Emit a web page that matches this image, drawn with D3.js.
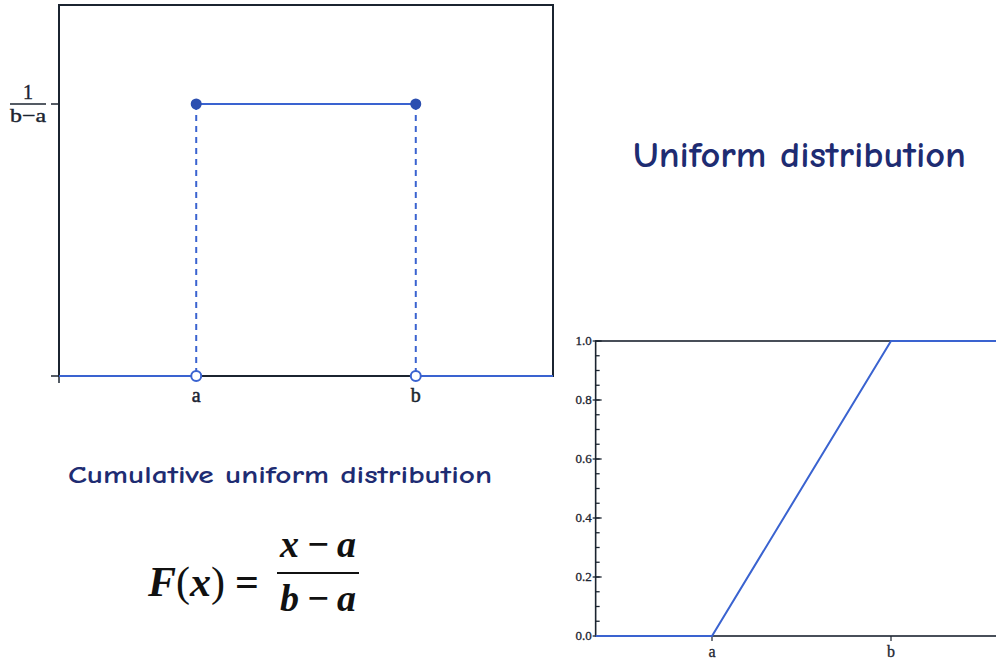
<!DOCTYPE html>
<html>
<head>
<meta charset="utf-8">
<script src="https://cdn.jsdelivr.net/npm/d3@7"></script>
<style>
  html, body { margin: 0; padding: 0; background: #fff; }
  svg { display: block; }
</style>
</head>
<body>
<svg id="chart" width="996" height="663"></svg>
<script>
// Uniform distribution on [a, b]
const a = 2.5;
const b = 6.5;
const density = 1 / (b - a);

// Density plot: x domain and y headroom
const pdfXDomain = [0, 9];
const pdfYMax = 0.341;
const pdfXTicks = [{ v: a, label: "a" }, { v: b, label: "b" }];

// Density pieces: flat zero outside [a, b], flat 1/(b-a) inside
const pdfSegments = [
  [[0, 0], [a, 0]],
  [[a, density], [b, density]],
  [[b, 0], [9, 0]]
];
const pdfFilled = [[a, density], [b, density]];
const pdfOpen = [[a, 0], [b, 0]];

// Cumulative plot
const cdfXDomain = [-0.1, 9.5];
const cdfPoints = [[-0.1, 0], [a, 0], [b, 1], [9.5, 1]];
const cdfYTicks = [0, 0.2, 0.4, 0.6, 0.8, 1.0];
const cdfYMinor = d3.range(0, 1.0001, 0.05);
const cdfXTicks = [{ v: a, label: "a" }, { v: b, label: "b" }];

const titleText = "Uniform distribution";
const subtitleText = "Cumulative uniform distribution";

const blue = "#3a63d0";
const dotBlue = "#2c4fb0";
const navy = "#1e2c72";
const ink = "#1b2430";

const svg = d3.select("#chart");
const serif = "'Liberation Serif', 'DejaVu Serif', serif";

// ---------- density chart ----------
const px = d3.scaleLinear().domain(pdfXDomain).range([59, 553]);
const py = d3.scaleLinear().domain([0, pdfYMax]).range([376, 5]);

const pdfG = svg.append("g");
// frame
pdfG.append("rect")
  .attr("x", px(pdfXDomain[0])).attr("y", py(pdfYMax))
  .attr("width", px(pdfXDomain[1]) - px(pdfXDomain[0]))
  .attr("height", py(0) - py(pdfYMax))
  .attr("fill", "none").attr("stroke", ink).attr("stroke-width", 2);
// axis ticks at origin
pdfG.append("line").attr("x1", px(0) - 8).attr("x2", px(0)).attr("y1", py(0)).attr("y2", py(0))
  .attr("stroke", ink).attr("stroke-width", 1.5);
pdfG.append("line").attr("x1", px(0)).attr("x2", px(0)).attr("y1", py(0)).attr("y2", py(0) + 7)
  .attr("stroke", ink).attr("stroke-width", 1.5);
// y tick at 1/(b-a)
pdfG.append("line").attr("x1", px(0) - 8).attr("x2", px(0)).attr("y1", py(density)).attr("y2", py(density))
  .attr("stroke", ink).attr("stroke-width", 1.5);

// y tick label as a stacked fraction
const fracX = 28;
pdfG.append("text").attr("x", fracX).attr("y", py(density) - 5)
  .attr("text-anchor", "middle").attr("font-family", serif)
  .attr("font-size", 20).attr("fill", ink)
  .attr("stroke", ink).attr("stroke-width", 0.4).text("1");
pdfG.append("line").attr("x1", fracX - 18).attr("x2", fracX + 18)
  .attr("y1", py(density)).attr("y2", py(density)).attr("stroke", ink).attr("stroke-width", 1.4);
pdfG.append("text").attr("x", fracX).attr("y", py(density) + 18)
  .attr("text-anchor", "middle").attr("font-family", serif)
  .attr("font-size", 19).attr("fill", ink)
  .attr("stroke", ink).attr("stroke-width", 0.4)
  .attr("textLength", 36).attr("lengthAdjust", "spacingAndGlyphs")
  .text("b\u2212a");

// dashed verticals
pdfG.selectAll("line.drop").data(pdfFilled).enter().append("line")
  .attr("class", "drop")
  .attr("x1", d => px(d[0])).attr("x2", d => px(d[0]))
  .attr("y1", d => py(d[1])).attr("y2", d => py(0))
  .attr("stroke", blue).attr("stroke-width", 2).attr("stroke-dasharray", "6,5");

const pline = d3.line().x(d => px(d[0])).y(d => py(d[1]));
pdfG.selectAll("path.seg").data(pdfSegments).enter().append("path")
  .attr("class", "seg").attr("d", pline)
  .attr("fill", "none").attr("stroke", blue).attr("stroke-width", 2.2);

pdfG.selectAll("circle.filled").data(pdfFilled).enter().append("circle")
  .attr("cx", d => px(d[0])).attr("cy", d => py(d[1])).attr("r", 5.5)
  .attr("fill", dotBlue);
pdfG.selectAll("circle.open").data(pdfOpen).enter().append("circle")
  .attr("cx", d => px(d[0])).attr("cy", d => py(d[1])).attr("r", 5)
  .attr("fill", "#fff").attr("stroke", blue).attr("stroke-width", 2);

pdfG.selectAll("text.xl").data(pdfXTicks).enter().append("text")
  .attr("x", d => px(d.v)).attr("y", py(0) + 26)
  .attr("text-anchor", "middle").attr("font-family", serif)
  .attr("font-size", 20).attr("fill", ink)
  .attr("stroke", ink).attr("stroke-width", 0.5).text(d => d.label);

// ---------- titles ----------
const comic = "'Comic Sans MS', 'Comic Neue', 'DejaVu Sans', sans-serif";
svg.append("text").attr("x", 633).attr("y", 167)
  .attr("font-family", comic).attr("font-size", 37).attr("font-weight", "bold")
  .attr("fill", navy)
  .attr("textLength", 333).attr("lengthAdjust", "spacingAndGlyphs")
  .text(titleText);
svg.append("text").attr("x", 68).attr("y", 483)
  .attr("font-family", comic).attr("font-size", 25).attr("font-weight", "bold")
  .attr("fill", navy)
  .attr("textLength", 424).attr("lengthAdjust", "spacingAndGlyphs")
  .text(subtitleText);

// ---------- formula F(x) = (x - a)/(b - a) ----------
const f = svg.append("g").attr("font-family", serif).attr("font-weight", "bold").attr("fill", "#111");
const lhs = f.append("text").attr("x", 148).attr("y", 596).attr("font-size", 42);
lhs.append("tspan").attr("font-style", "italic").text("F");
lhs.append("tspan").attr("font-weight", "normal").text("(");
lhs.append("tspan").attr("font-style", "italic").text("x");
lhs.append("tspan").attr("font-weight", "normal").text(")");
lhs.append("tspan").attr("dx", 10).text("=");
f.append("text").attr("x", 318).attr("y", 557).attr("text-anchor", "middle")
  .attr("font-size", 38).attr("font-style", "italic").text("x\u2009\u2212\u2009a");
f.append("line").attr("x1", 277).attr("x2", 359).attr("y1", 573).attr("y2", 573)
  .attr("stroke", "#111").attr("stroke-width", 2.2);
f.append("text").attr("x", 318).attr("y", 611).attr("text-anchor", "middle")
  .attr("font-size", 38).attr("font-style", "italic").text("b\u2009\u2212\u2009a");

// ---------- cumulative chart ----------
const cx = d3.scaleLinear().domain([a, b]).range([712, 891]);
const cy = d3.scaleLinear().domain([0, 1]).range([636, 341]);
const cdfG = svg.append("g");

// frame (right side runs past the page edge)
cdfG.append("rect")
  .attr("x", cx(cdfXDomain[0])).attr("y", cy(1))
  .attr("width", cx(cdfXDomain[1]) - cx(cdfXDomain[0]))
  .attr("height", cy(0) - cy(1))
  .attr("fill", "none").attr("stroke", ink).attr("stroke-width", 1.6);

const x0 = cx(cdfXDomain[0]);
cdfG.selectAll("line.minor").data(cdfYMinor).enter().append("line")
  .attr("x1", x0).attr("x2", x0 + 4)
  .attr("y1", d => cy(d)).attr("y2", d => cy(d))
  .attr("stroke", ink).attr("stroke-width", 1.3);
cdfG.selectAll("line.major").data(cdfYTicks).enter().append("line")
  .attr("x1", x0 - 3).attr("x2", x0 + 6)
  .attr("y1", d => cy(d)).attr("y2", d => cy(d))
  .attr("stroke", ink).attr("stroke-width", 1.3);
cdfG.selectAll("text.yl").data(cdfYTicks).enter().append("text")
  .attr("x", x0 - 4).attr("y", d => cy(d) + 4)
  .attr("text-anchor", "end").attr("font-family", serif)
  .attr("font-size", 13).attr("fill", ink)
  .attr("stroke", ink).attr("stroke-width", 0.3)
  .text(d => d3.format(".1f")(d));

cdfG.selectAll("line.xt").data(cdfXTicks).enter().append("line")
  .attr("x1", d => cx(d.v)).attr("x2", d => cx(d.v))
  .attr("y1", cy(0)).attr("y2", cy(0) + 5)
  .attr("stroke", ink).attr("stroke-width", 1.2);
cdfG.selectAll("text.xl").data(cdfXTicks).enter().append("text")
  .attr("x", d => cx(d.v)).attr("y", cy(0) + 21)
  .attr("text-anchor", "middle").attr("font-family", serif)
  .attr("font-size", 16).attr("fill", ink)
  .attr("stroke", ink).attr("stroke-width", 0.3).text(d => d.label);

cdfG.append("path").datum(cdfPoints)
  .attr("d", d3.line().x(d => cx(d[0])).y(d => cy(d[1])))
  .attr("fill", "none").attr("stroke", blue).attr("stroke-width", 2);
</script>
</body>
</html>
